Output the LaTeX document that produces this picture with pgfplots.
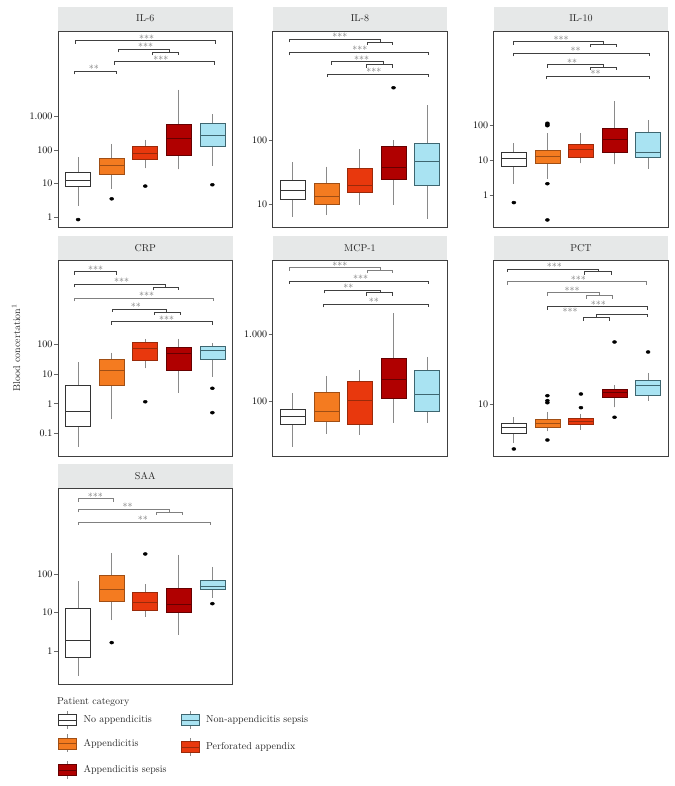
\documentclass[border=0pt]{standalone}
\usepackage{pgfplots}
\pgfplotsset{compat=1.18}
\usepgfplotslibrary{statistics}
\definecolor{cW}{HTML}{FFFFFF}\definecolor{bW}{HTML}{333333}
\definecolor{cO}{HTML}{F47B20}\definecolor{bO}{HTML}{A04E14}
\definecolor{cR}{HTML}{E8380D}\definecolor{bR}{HTML}{9A2A0A}
\definecolor{cD}{HTML}{B00000}\definecolor{bD}{HTML}{660000}
\definecolor{cB}{HTML}{A9E3F2}\definecolor{bB}{HTML}{3E6670}
\definecolor{wg}{HTML}{8A8A8A}
\definecolor{hdr}{HTML}{E6E8E8}
\pgfplotsset{
 panel/.style={scale only axis, width=174.5pt, height=196pt, anchor=south west,
  xmin=0.4, xmax=5.6, xtick=\empty, ytick pos=left, tick align=outside,
  major tick length=4pt, axis line style={black!75, line width=0.6pt},
  ytick style={black!60, line width=0.6pt},
  yticklabel style={font=\fontsize{10}{12}\selectfont, inner sep=1.5pt}, clip=false},
 bs/.style 2 args={draw=#2, fill=#1, line width=0.7pt,
  boxplot/every whisker/.style={draw=wg, line width=1pt},
  boxplot/every median/.style={draw=#2, line width=0.9pt}},
 bs1/.style={bs={cW}{bW}}, bs2/.style={bs={cO}{bO}}, bs3/.style={bs={cR}{bR}},
 bs4/.style={bs={cD}{bD}}, bs5/.style={bs={cB}{bB}},
}
\tikzset{stars/.style={anchor=base, inner sep=0pt, yshift=-1.5pt, text=black!55, font=\fontsize{10}{10}\selectfont}}
\def\pu{33.56}
\newcommand{\bx}[6]{\addplot[bs#1, boxplot prepared={draw direction=y, draw position=#1, lower whisker=#2, lower quartile=#3, median=#4, upper quartile=#5, upper whisker=#6, box extend=0.745, whisker extend=0}] coordinates {};}
\newcommand{\outl}[1]{\addplot[only marks, mark=*, mark size=1.5pt, mark options={draw=black, fill=black, xscale=1.35}] coordinates {#1};}
\newcommand{\br}[6][black!75]{%
 \draw[#1, line width=0.6pt] (axis cs:{0.4+(#2)/\pu},{\yt-(#4)/\dc}) ++(0pt,-3pt) -- ++(0pt,3pt) -- (axis cs:{0.4+(#3)/\pu},{\yt-(#4)/\dc}) -- ++(0pt,-3pt);
 \node[stars] at (axis cs:{0.4+(#5)/\pu},{\yt-(#4)/\dc}) {#6};}
\newcommand{\sbr}[4][black!75]{%
 \draw[#1, line width=0.6pt] (axis cs:{0.4+(#2)/\pu},{\yt-(#4)/\dc}) ++(0pt,-3pt) -- ++(0pt,3pt) -- (axis cs:{0.4+(#3)/\pu},{\yt-(#4)/\dc}) -- ++(0pt,-3pt);}
\newcommand{\lkey}[4]{%
 \begin{scope}[shift={(#1pt,{786pt-#2pt})}]
 \draw[wg, line width=0.8pt] (9pt,5.5pt) -- (9pt,9pt);
 \draw[wg, line width=0.8pt] (9pt,-5.5pt) -- (9pt,-9pt);
 \filldraw[fill=#3, draw=#4, line width=0.7pt] (0pt,-5.5pt) rectangle (18pt,5.5pt);
 \draw[#4, line width=0.9pt] (0pt,0pt) -- (18pt,0pt);
 \end{scope}}
\begin{document}
\begin{tikzpicture}
\path[use as bounding box] (0,0) rectangle (674pt,786pt);
% IL-6
\def\yt{5.56}\def\dc{33.5}
\begin{axis}[panel, name=p1, at={(58pt,559pt)}, ymin=-0.291, ymax=5.56, ytick={0,1,2,3}, yticklabels={1,10,100,1.000}]
\bx{1}{0.34}{0.91}{1.11}{1.34}{1.81}
\bx{2}{0.84}{1.29}{1.55}{1.75}{2.19}
\bx{3}{1.46}{1.74}{1.91}{2.12}{2.31}
\bx{4}{1.43}{1.85}{2.34}{2.78}{3.80}
\bx{5}{1.53}{2.13}{2.45}{2.81}{3.08}
\outl{(1,-0.07) (2,0.55) (3,0.93) (5,0.97)}
\br{17.7}{157}{9.7}{88.7}{***}
\br{60.3}{111.3}{18.3}{87.7}{***}\sbr{94.3}{120.7}{21.3}
\br{56.3}{156.3}{30.7}{103}{***}
\br{16}{58.3}{40.3}{36}{**}
\end{axis}
% IL-8
\def\yt{3.685}\def\dc{64.7}
\begin{axis}[panel, name=p2, at={(272.7pt,559pt)}, ymin=0.656, ymax=3.685, ytick={1,2}, yticklabels={10,100}]
\bx{1}{0.815}{1.077}{1.223}{1.371}{1.655}
\bx{2}{0.841}{1.006}{1.130}{1.325}{1.587}
\bx{3}{1.0}{1.192}{1.294}{1.567}{1.856}
\bx{4}{1.0}{1.393}{1.572}{1.907}{2.0}
\bx{5}{0.779}{1.300}{1.665}{1.943}{2.541}
\outl{(4,2.808)}
\br{16.6}{107.3}{8.3}{67.3}{***}\sbr{94.3}{120}{11}
\br{16.6}{156}{21.3}{87.3}{***}
\br{58.6}{110.3}{30.7}{89}{***}\sbr{93.3}{119.6}{33.7}
\br{54.6}{155.6}{43}{101.3}{***}
\end{axis}
% IL-10
\def\yt{4.733}\def\dc{34.65}
\begin{axis}[panel, name=p3, at={(493.7pt,559pt)}, ymin=-0.924, ymax=4.733, ytick={0,1,2}, yticklabels={1,10,100}]
\bx{1}{0.309}{0.837}{1.059}{1.232}{1.509}
\bx{2}{0.462}{0.924}{1.105}{1.279}{1.78}
\bx{3}{0.915}{1.097}{1.31}{1.45}{1.78}
\bx{4}{0.886}{1.22}{1.61}{1.913}{2.71}
\bx{5}{0.76}{1.077}{1.232}{1.81}{2.165}
\outl{(1,-0.22) (2,2.07) (2,2.0) (2,2.03) (2,0.326) (2,-0.72)}
\br{19.6}{110}{10.7}{67.3}{***}\sbr{97}{123}{13.3}
\br{19.6}{155.6}{22.3}{82}{**}
\br{53.6}{109.3}{33.7}{78.3}{**}\sbr{96.6}{122.3}{36}
\br{53}{155.6}{45.3}{102}{**}
\end{axis}
% CRP
\def\yt{4.84}\def\dc{29.7}
\begin{axis}[panel, name=p4, at={(58pt,330pt)}, ymin=-1.759, ymax=4.84, ytick={-1,0,1,2}, yticklabels={0.1,1,10,100}]
\bx{1}{-1.47}{-0.77}{-0.27}{0.606}{1.40}
\bx{2}{-0.525}{0.606}{1.135}{1.505}{1.72}
\bx{3}{1.19}{1.47}{1.85}{2.07}{2.18}
\bx{4}{0.37}{1.135}{1.70}{1.886}{2.18}
\bx{5}{0.91}{1.495}{1.785}{1.92}{2.05}
\outl{(3,0.067) (5,0.52) (5,-0.30)}
\br{16}{58.3}{11.7}{37.7}{***}
\br{16}{107.7}{24.3}{63.7}{***}\sbr{95}{120.7}{27.3}
\br[black!50]{16}{155.7}{38.3}{88.7}{***}
\br{54}{108.7}{49}{78}{**}\sbr{96}{122.3}{52}
\br{53.3}{154.7}{61.7}{108.7}{***}
\end{axis}
% MCP-1
\def\yt{4.114}\def\dc{66.7}
\begin{axis}[panel, name=p5, at={(272.7pt,330pt)}, ymin=1.175, ymax=4.114, ytick={2,3}, yticklabels={100,1.000}]
\bx{1}{1.306}{1.655}{1.77}{1.875}{2.115}
\bx{2}{1.505}{1.70}{1.84}{2.125}{2.375}
\bx{3}{1.49}{1.645}{2.01}{2.30}{2.465}
\bx{4}{1.675}{2.035}{2.325}{2.64}{3.315}
\bx{5}{1.675}{1.84}{2.095}{2.455}{2.665}
\br[black!50]{16.6}{107.3}{7.7}{67.3}{***}\sbr[black!50]{95}{120}{10.3}
\br{16.6}{156}{21}{88}{***}
\br{52}{107.3}{30.3}{75.6}{**}\sbr{94}{120}{32.7}
\br{50.6}{155.6}{44.3}{101.3}{**}
\end{axis}
% PCT
\def\yt{1.9}\def\dc{160}
\begin{axis}[panel, name=p6, at={(493.7pt,330pt)}, ymin=0.675, ymax=1.9, ytick={1}, yticklabels={10}]
\bx{1}{0.754}{0.819}{0.854}{0.879}{0.917}
\bx{2}{0.829}{0.854}{0.879}{0.906}{0.95}
\bx{3}{0.84}{0.873}{0.892}{0.91}{0.9375}
\bx{4}{0.979}{1.044}{1.071}{1.092}{1.117}
\bx{5}{1.021}{1.054}{1.117}{1.148}{1.196}
\outl{(1,0.719) (2,1.052) (2,1.021) (2,1.008) (2,0.775) (3,1.0625) (3,0.977) (4,1.3875) (4,0.917) (5,1.325)}
\br{14}{104.3}{9}{60.6}{***}\sbr{91}{117.3}{11.7}
\br[black!50]{14}{153}{21.7}{84.6}{***}
\br[black!50]{53.3}{105.3}{32.7}{78.3}{***}\sbr[black!50]{92.3}{118.3}{35.7}
\br{53.3}{153.6}{46.7}{104.6}{***}
\br{103}{153.6}{54.3}{76.3}{***}\sbr{90}{115.3}{57.7}
\end{axis}
% SAA
\def\yt{4.24}\def\dc{38.5}
\begin{axis}[panel, name=p7, at={(58pt,102pt)}, ymin=-0.851, ymax=4.24, ytick={0,1,2}, yticklabels={1,10,100}]
\bx{1}{-0.64}{-0.156}{0.286}{1.125}{1.826}
\bx{2}{0.805}{1.30}{1.592}{1.964}{2.553}
\bx{3}{0.9}{1.065}{1.273}{1.522}{1.74}
\bx{4}{0.423}{1.0}{1.21}{1.644}{2.50}
\bx{5}{1.377}{1.61}{1.688}{1.852}{2.197}
\outl{(2,0.224) (3,2.527) (5,1.236)}
\br[black!50]{20}{55}{10.7}{37.4}{***}
\br[black!50]{20}{111}{21.3}{69.7}{**}\sbr[black!50]{98.4}{124}{24}
\br[black!50]{20}{152}{34}{85}{**}
\end{axis}
% strip headers
\foreach \n/\t in {p1/IL-6, p2/IL-8, p3/IL-10, p4/CRP, p5/MCP-1, p6/PCT, p7/SAA}{
 \fill[hdr] ([yshift=0.3pt]\n.north west) rectangle ([yshift=24pt]\n.north east);
 \node[font=\fontsize{10}{12}\selectfont, text=black!85] at ([yshift=12.3pt]\n.north) {\t};
}
% y label
\node[rotate=90, font=\fontsize{10}{12}\selectfont, text=black!85] at (16pt,438pt) {Blood concertation\textsuperscript{1}};
% legend
\node[anchor=west, inner sep=0pt, font=\fontsize{10}{12}\selectfont, text=black!85] at (57pt,{786pt-702pt}) {Patient category};
\lkey{58.3}{720}{cW}{bW}
\lkey{58.3}{743.5}{cO}{bO}
\lkey{58.3}{770}{cD}{bD}
\lkey{181}{720}{cB}{bB}
\lkey{181}{747.3}{cR}{bR}
\tikzset{lt/.style={anchor=west, inner sep=0pt, font=\fontsize{10}{12}\selectfont, text=black!85}}
\node[lt] at (83.3pt,{786pt-720pt}) {No appendicitis};
\node[lt] at (83.3pt,{786pt-743.5pt}) {Appendicitis};
\node[lt] at (83.3pt,{786pt-770pt}) {Appendicitis sepsis};
\node[lt] at (206pt,{786pt-720pt}) {Non-appendicitis sepsis};
\node[lt] at (206pt,{786pt-747.3pt}) {Perforated appendix};
\end{tikzpicture}
\end{document}
